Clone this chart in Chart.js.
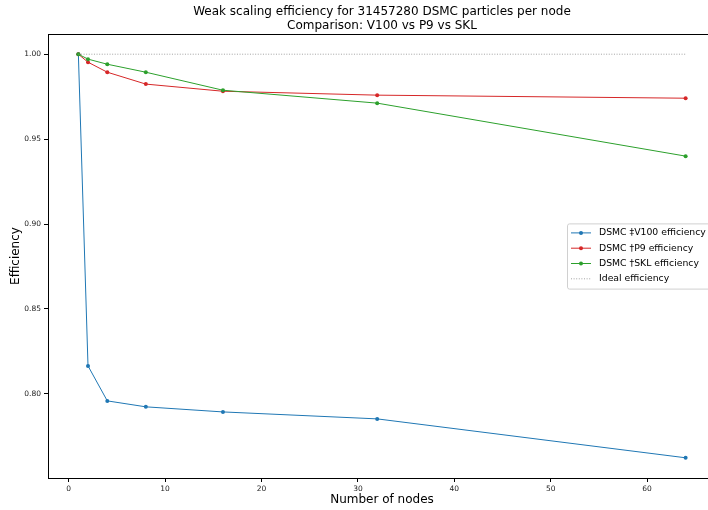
<!DOCTYPE html>
<html>
<head>
<meta charset="utf-8">
<script src="https://cdn.jsdelivr.net/npm/chart.js@4.4.0/dist/chart.umd.min.js"></script>
<style>
  html, body { margin: 0; padding: 0; background: #fff; overflow: hidden; }
  #wrap { width: 708px; height: 510px; overflow: hidden; }
  canvas { display: block; }
</style>
</head>
<body>
<div id="wrap"><canvas id="chart" width="720" height="510"></canvas></div>
<script>
// ── data ──
const nodes = [1, 2, 4, 8, 16, 32, 64];
const v100Eff = [1.0, 0.8165, 0.7959, 0.7924, 0.7894, 0.7853, 0.7624];
const p9Eff = [1.0, 0.9953, 0.9894, 0.9824, 0.9782, 0.9759, 0.9741];
const sklEff = [1.0, 0.9971, 0.9941, 0.9894, 0.9788, 0.9712, 0.9400];
const idealEff = [1, 1, 1, 1, 1, 1, 1];
const xTicks = [0, 10, 20, 30, 40, 50, 60];
const yTicks = [0.80, 0.85, 0.90, 0.95, 1.00];
const titleLines = ['Weak scaling efficiency for 31457280 DSMC particles per node',
                    'Comparison: V100 vs P9 vs SKL'];

const FONT = "'DejaVu Sans', sans-serif";
const pts = arr => nodes.map((n, i) => ({ x: n, y: arr[i] }));

function series(label, arr, color, order) {
  return {
    label: label,
    data: pts(arr),
    borderColor: color,
    backgroundColor: color,
    borderWidth: 1,
    pointRadius: 2,
    pointBorderWidth: 0,
    pointBackgroundColor: color,
    tension: 0,
    order: order
  };
}

// ── title, spines and legend drawn in matplotlib style ──
const mplDecor = {
  id: 'mplDecor',
  afterDraw(chart) {
    const ctx = chart.ctx;
    const a = chart.chartArea;
    ctx.save();
    // spines
    ctx.strokeStyle = '#000';
    ctx.lineWidth = 1;
    ctx.strokeRect(Math.round(a.left) + 0.5, Math.round(a.top) + 0.5,
                   Math.round(a.right - a.left), Math.round(a.bottom - a.top));
    // title
    ctx.fillStyle = '#000';
    ctx.font = '12px ' + FONT;
    ctx.textAlign = 'center';
    ctx.textBaseline = 'middle';
    const cx = (a.left + a.right) / 2;
    ctx.fillText(titleLines[0], cx, 12);
    ctx.fillText(titleLines[1], cx, 25.5);

    // legend (center right)
    const ds = chart.data.datasets;
    const rowH = 15.3;
    const boxW = 144, boxH = ds.length * rowH + 4;
    const bx = a.right - 5 - boxW;
    const by = (a.top + a.bottom) / 2 - boxH / 2;
    ctx.fillStyle = 'rgba(255,255,255,0.85)';
    ctx.strokeStyle = '#d0d0d0';
    ctx.beginPath();
    ctx.roundRect(bx + 0.5, by + 0.5, boxW, boxH, 2);
    ctx.fill();
    ctx.stroke();
    ctx.font = '9.3px ' + FONT;
    ctx.textAlign = 'left';
    ctx.textBaseline = 'middle';
    ds.forEach((d, i) => {
      const y = by + 9.5 + i * rowH;
      ctx.strokeStyle = d.borderColor;
      ctx.lineWidth = d.borderWidth;
      ctx.setLineDash(d.borderDash || []);
      ctx.beginPath();
      ctx.moveTo(bx + 4, y);
      ctx.lineTo(bx + 24, y);
      ctx.stroke();
      ctx.setLineDash([]);
      if (d.pointRadius > 0) {
        ctx.fillStyle = d.pointBackgroundColor;
        ctx.beginPath();
        ctx.arc(bx + 14, y, d.pointRadius, 0, Math.PI * 2);
        ctx.fill();
      }
      ctx.fillStyle = '#000';
      ctx.fillText(d.label, bx + 32, y);
    });
    ctx.restore();
  }
};

new Chart(document.getElementById('chart'), {
  type: 'line',
  data: {
    datasets: [
      series('DSMC \u2021V100 efficiency', v100Eff, '#1f77b4', 4),
      series('DSMC \u2020P9 efficiency', p9Eff, '#d62728', 3),
      series('DSMC \u2020SKL efficiency', sklEff, '#2ca02c', 2),
      {
        label: 'Ideal efficiency',
        data: pts(idealEff),
        borderColor: '#8c8c8c',
        borderWidth: 0.8,
        borderDash: [1, 1.6],
        pointRadius: 0,
        order: 1
      }
    ]
  },
  options: {
    responsive: false,
    animation: false,
    devicePixelRatio: 1,
    layout: { padding: { left: 0, right: 1, top: 34, bottom: 0 } },
    plugins: {
      legend: { display: false },
      title: { display: false },
      tooltip: { enabled: false }
    },
    scales: {
      x: {
        type: 'linear',
        min: -2.15,
        max: 67.15,
        afterBuildTicks: s => { s.ticks = xTicks.map(v => ({ value: v })); },
        afterFit: s => { s.height = 32; },
        grid: { drawOnChartArea: false, drawTicks: true, tickLength: 4, color: '#000' },
        border: { display: true, color: '#000' },
        ticks: { font: { family: FONT, size: 7.5 }, color: '#222', padding: 3, maxRotation: 0,
                 callback: v => String(v) },
        title: { display: true, text: 'Number of nodes', color: '#000',
                 font: { family: FONT, size: 12 }, padding: { top: 3, bottom: 3 } }
      },
      y: {
        min: 0.7505,
        max: 1.0119,
        afterBuildTicks: s => { s.ticks = yTicks.map(v => ({ value: v })); },
        afterFit: s => { s.width = 48; },
        grid: { drawOnChartArea: false, drawTicks: true, tickLength: 4, color: '#000' },
        border: { display: true, color: '#000' },
        ticks: { font: { family: FONT, size: 7.5 }, color: '#222', padding: 3,
                 callback: v => v.toFixed(2) },
        title: { display: true, text: 'Efficiency', color: '#000',
                 font: { family: FONT, size: 12 }, padding: { top: 9, bottom: 9 } }
      }
    }
  },
  plugins: [mplDecor]
});
</script>
</body>
</html>
